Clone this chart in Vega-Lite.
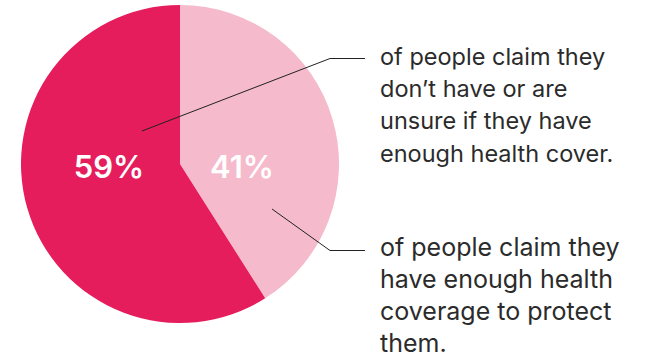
{
  "$schema": "https://vega.github.io/schema/vega-lite/v6.json",
  "width": 645,
  "height": 355,
  "padding": 0,
  "autosize": {"type": "fit", "contains": "padding"},
  "background": "white",
  "config": {"view": {"stroke": null}},
  "data": {
    "values": [
      {"category": "have", "rank": 1, "value": 41, "label": "41%", "desc": ["of people claim they", "have enough health", "coverage to protect", "them."]},
      {"category": "not", "rank": 2, "value": 59, "label": "59%", "desc": ["of people claim they", "don’t have or are", "unsure if they have", "enough health cover."]}
    ]
  },
  "layer": [
    {
      "mark": {"type": "arc", "outerRadius": 159},
      "encoding": {
        "x": {"datum": 180, "type": "quantitative", "scale": {"domain": [0, 645], "range": [0, 645], "nice": false, "zero": false}, "axis": null},
        "y": {"datum": 164, "type": "quantitative", "scale": {"domain": [0, 355], "range": [0, 355], "nice": false, "zero": false}, "axis": null},
        "theta": {"field": "value", "type": "quantitative", "stack": true},
        "order": {"field": "rank", "type": "quantitative", "sort": "ascending"},
        "color": {"field": "category", "type": "nominal", "scale": {"domain": ["have", "not"], "range": ["#F5BACB", "#E51D5D"]}, "legend": null}
      }
    },
    {
      "transform": [{"filter": "datum.category === 'not'"}],
      "mark": {"type": "text", "font": "Inter", "fontWeight": 600, "fontSize": 31, "color": "white", "align": "center", "baseline": "alphabetic"},
      "encoding": {
        "x": {"datum": 109, "type": "quantitative"},
        "y": {"datum": 178, "type": "quantitative"},
        "text": {"field": "label", "type": "nominal"}
      }
    },
    {
      "transform": [{"filter": "datum.category === 'have'"}],
      "mark": {"type": "text", "font": "Inter", "fontWeight": 600, "fontSize": 31, "color": "white", "align": "center", "baseline": "alphabetic"},
      "encoding": {
        "x": {"datum": 242, "type": "quantitative"},
        "y": {"datum": 178, "type": "quantitative"},
        "text": {"field": "label", "type": "nominal"}
      }
    },
    {
      "transform": [{"filter": "datum.category === 'not'"}],
      "mark": {"type": "text", "font": "Inter", "fontSize": 23.5, "color": "#2b2b2b", "align": "left", "baseline": "alphabetic", "lineHeight": 32.2},
      "encoding": {
        "x": {"datum": 380, "type": "quantitative"},
        "y": {"datum": 65, "type": "quantitative"},
        "text": {"field": "desc", "type": "nominal"}
      }
    },
    {
      "transform": [{"filter": "datum.category === 'have'"}],
      "mark": {"type": "text", "font": "Inter", "fontSize": 25, "color": "#2b2b2b", "align": "left", "baseline": "alphabetic", "lineHeight": 32},
      "encoding": {
        "x": {"datum": 380, "type": "quantitative"},
        "y": {"datum": 256, "type": "quantitative"},
        "text": {"field": "desc", "type": "nominal"}
      }
    },
    {
      "transform": [{"filter": "datum.category === 'not'"}],
      "mark": {"type": "rule", "color": "#222", "strokeWidth": 1},
      "encoding": {
        "x": {"datum": 142, "type": "quantitative"},
        "y": {"datum": 131, "type": "quantitative"},
        "x2": {"datum": 330},
        "y2": {"datum": 58.5}
      }
    },
    {
      "transform": [{"filter": "datum.category === 'not'"}],
      "mark": {"type": "rule", "color": "#222", "strokeWidth": 1},
      "encoding": {
        "x": {"datum": 330, "type": "quantitative"},
        "y": {"datum": 58.5, "type": "quantitative"},
        "x2": {"datum": 365},
        "y2": {"datum": 58.5}
      }
    },
    {
      "transform": [{"filter": "datum.category === 'have'"}],
      "mark": {"type": "rule", "color": "#222", "strokeWidth": 1},
      "encoding": {
        "x": {"datum": 272, "type": "quantitative"},
        "y": {"datum": 209, "type": "quantitative"},
        "x2": {"datum": 330},
        "y2": {"datum": 250.5}
      }
    },
    {
      "transform": [{"filter": "datum.category === 'have'"}],
      "mark": {"type": "rule", "color": "#222", "strokeWidth": 1},
      "encoding": {
        "x": {"datum": 330, "type": "quantitative"},
        "y": {"datum": 250.5, "type": "quantitative"},
        "x2": {"datum": 365},
        "y2": {"datum": 250.5}
      }
    }
  ]
}
